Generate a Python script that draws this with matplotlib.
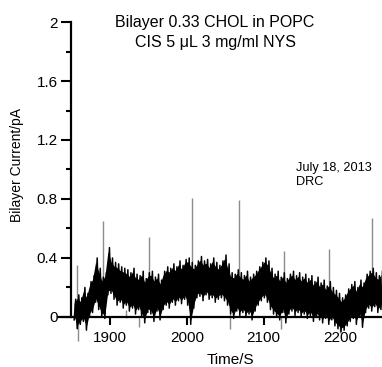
#!/usr/bin/env python3
"""Bilayer current trace, 0.33 CHOL in POPC with NYS (recreated)."""

import matplotlib

matplotlib.use("Agg")
import matplotlib.pyplot as plt
import numpy as np

plt.rcParams["font.family"] = ["Liberation Sans", "DejaVu Sans"]

time_s = [
    1853, 1857, 1861, 1865, 1869, 1873, 1877, 1881, 1885, 1889, 1893, 1897,
    1901, 1905, 1909, 1913, 1917, 1921, 1925, 1929, 1933, 1937, 1941, 1945,
    1949, 1953, 1957, 1961, 1965, 1969, 1973, 1977, 1981, 1985, 1989, 1993,
    1997, 2001, 2005, 2009, 2013, 2017, 2021, 2025, 2029, 2033, 2037, 2041,
    2045, 2049, 2053, 2057, 2061, 2065, 2069, 2073, 2077, 2081, 2085, 2089,
    2093, 2097, 2101, 2105, 2109, 2113, 2117, 2121, 2125, 2129, 2133, 2137,
    2141, 2145, 2149, 2153, 2157, 2161, 2165, 2169, 2173, 2177, 2181, 2185,
    2189, 2193, 2197, 2201, 2205, 2209, 2213, 2217, 2221, 2225, 2229, 2233,
    2237, 2241, 2245, 2249, 2253,
]
upper_pa = [
    0.12, 0.15, 0.13, 0.20, 0.16, 0.24, 0.28, 0.40, 0.33, 0.27, 0.30, 0.47,
    0.40, 0.37, 0.36, 0.34, 0.33, 0.32, 0.30, 0.33, 0.29, 0.28, 0.31, 0.26,
    0.30, 0.31, 0.27, 0.29, 0.25, 0.31, 0.34, 0.33, 0.36, 0.34, 0.38, 0.35,
    0.39, 0.40, 0.37, 0.35, 0.38, 0.41, 0.38, 0.39, 0.36, 0.40, 0.37, 0.35,
    0.38, 0.42, 0.36, 0.30, 0.29, 0.32, 0.30, 0.28, 0.31, 0.27, 0.29, 0.31,
    0.34, 0.37, 0.40, 0.38, 0.33, 0.29, 0.31, 0.27, 0.30, 0.26, 0.29, 0.31,
    0.28, 0.30, 0.27, 0.29, 0.26, 0.28, 0.24, 0.27, 0.23, 0.25, 0.21, 0.24,
    0.20, 0.18, 0.16, 0.13, 0.15, 0.19, 0.22, 0.24, 0.20, 0.25, 0.23, 0.29,
    0.31, 0.33, 0.30, 0.28, 0.31,
]
lower_pa = [
    -0.02, -0.08, -0.05, -0.03, -0.09, 0.00, 0.03, 0.10, 0.05, 0.00, -0.01, 0.15,
    0.16, 0.12, 0.08, 0.10, 0.06, 0.08, 0.04, 0.06, 0.02, 0.05, 0.00, -0.04,
    0.03, 0.02, -0.03, 0.04, -0.02, 0.05, 0.08, 0.06, 0.10, 0.08, 0.11, 0.09,
    0.12, 0.08, -0.05, 0.06, 0.13, 0.14, 0.11, 0.15, 0.12, 0.13, 0.10, 0.12,
    0.13, 0.11, 0.08, 0.02, -0.01, 0.04, 0.01, 0.03, 0.00, 0.02, -0.02, 0.04,
    0.08, 0.11, 0.13, 0.10, 0.05, 0.02, 0.00, -0.02, 0.03, -0.04, 0.02, 0.04,
    0.01, 0.03, 0.00, 0.02, -0.01, 0.01, -0.03, 0.00, -0.02, -0.04, -0.01, -0.05,
    -0.02, -0.06, -0.08, -0.10, -0.09, -0.06, -0.03, -0.01, -0.05, 0.00, -0.07, 0.03,
    0.06, 0.04, 0.07, 0.03, 0.05,
]

# isolated spikes (time, base, tip)
spike_t = [1857, 1891, 1950, 2007, 2068, 2127, 2185, 2242, 1858, 1920, 1938, 2056, 2123, 2200]
spike_base = [0.10, 0.25, 0.25, 0.35, 0.28, 0.25, 0.22, 0.30, 0.0, 0.05, 0.0, 0.02, 0.0, -0.05]
spike_tip = [0.35, 0.65, 0.54, 0.81, 0.79, 0.45, 0.46, 0.67, -0.16, -0.01, -0.07, -0.08, -0.08, -0.11]

y_ticks = [0, 0.4, 0.8, 1.2, 1.6, 2.0]
y_labels = ["0", "0.4", "0.8", "1.2", "1.6", "2"]
x_ticks = [1900, 2000, 2100, 2200]


def main() -> None:
    fig = plt.figure(figsize=(3.82, 3.67), dpi=100)
    ax = fig.add_axes([0.152, 0.056, 0.848, 0.884])

    t = np.asarray(time_s, dtype=float)
    lo = np.asarray(lower_pa)
    hi = np.asarray(upper_pa)
    # zigzag between lower and upper envelope gives the noisy band
    zx = np.empty(2 * len(t))
    zy = np.empty(2 * len(t))
    zx[0::2] = t
    zx[1::2] = t + 2.0
    zy[0::2] = lo
    zy[1::2] = hi
    ax.fill_between(t, lo + 0.025, hi - 0.025, color="black", lw=0, zorder=2)
    ax.plot(zx, zy, color="black", lw=1.1, zorder=3)

    ax.vlines(spike_t, spike_base, spike_tip, color="#8c8c8c", lw=1.0, zorder=1)

    ax.set_xlim(1832, 2254.4)
    ax.set_ylim(-0.2, 2.0)

    for side in ("top", "right"):
        ax.spines[side].set_visible(False)
    ax.spines["left"].set_position(("data", 1849))
    ax.spines["left"].set_bounds(0, 2.0)
    ax.spines["bottom"].set_position(("data", 0))
    for side in ("left", "bottom"):
        ax.spines[side].set_linewidth(1.6)
        ax.spines[side].set_zorder(4)

    ax.set_yticks(y_ticks)
    ax.set_yticklabels(y_labels)
    ax.set_yticks([0.2, 0.6, 1.0, 1.4, 1.8], minor=True)
    ax.set_xticks(x_ticks)
    ax.set_xticklabels([str(v) for v in x_ticks])
    ax.tick_params(axis="y", which="major", direction="out", length=7, width=1.5,
                   labelsize=11, pad=2.5)
    ax.tick_params(axis="y", which="minor", direction="out", length=3.5, width=1.5)
    ax.tick_params(axis="x", which="major", direction="out", length=5.5, width=1.5,
                   labelsize=11, pad=4.5)
    ax.patch.set_alpha(0)

    fig.text(0.563, 0.938, "Bilayer 0.33 CHOL in POPC", ha="center", va="center",
             fontsize=11.5)
    fig.text(0.563, 0.884, "CIS 5 \u03bcL 3 mg/ml NYS", ha="center", va="center",
             fontsize=11.5)
    fig.text(0.045, 0.55, "Bilayer Current/pA", rotation=90, ha="center", va="center",
             fontsize=10)
    fig.text(0.602, 0.018, "Time/S", ha="center", va="center", fontsize=11)
    fig.text(0.775, 0.542, "July 18, 2013", ha="left", va="center", fontsize=9.2)
    fig.text(0.775, 0.504, "DRC", ha="left", va="center", fontsize=9.2)

    fig.savefig("out.png", dpi=100, facecolor="white")
    plt.close(fig)


if __name__ == "__main__":
    main()
